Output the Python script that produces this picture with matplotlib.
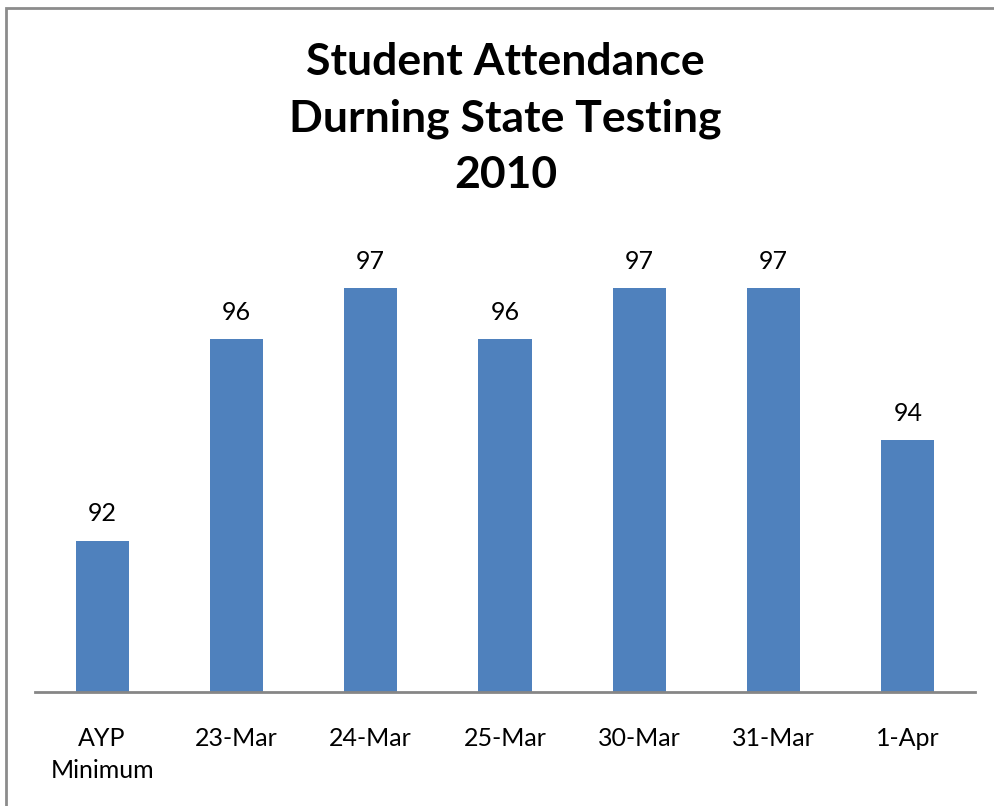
import matplotlib
matplotlib.use("Agg")
import matplotlib.pyplot as plt
from matplotlib.patches import Rectangle

# attendance percentages
categories = ["AYP\nMinimum", "23-Mar", "24-Mar", "25-Mar", "30-Mar", "31-Mar", "1-Apr"]
attendance = [92, 96, 97, 96, 97, 97, 94]
title = "Student Attendance\nDurning State Testing\n2010"

plt.rcParams['font.family'] = ['Lato', 'DejaVu Sans']

fig = plt.figure(figsize=(9.95, 8.06), dpi=100)
ax = fig.add_axes([0.0352, 0.1414, 0.9447, 0.5633])

x = range(len(categories))
bars = ax.bar(x, attendance, width=0.395, color="#4f81bd")
ax.set_ylim(89, 98)
ax.set_xlim(-0.5, len(categories) - 0.5)

for b, v in zip(bars, attendance):
    ax.annotate(str(v), (b.get_x() + b.get_width() / 2, v), xytext=(0, 11),
                textcoords="offset points", ha="center", va="bottom",
                fontsize=18, color="black")

ax.set_xticks(list(x))
ax.set_xticklabels(categories, fontsize=18, linespacing=1.5, va="top")
ax.tick_params(axis="x", length=0, pad=25)
ax.set_yticks([])
for side in ["left", "right", "top"]:
    ax.spines[side].set_visible(False)
ax.spines["bottom"].set_color("#868686")
ax.spines["bottom"].set_linewidth(2)

fig.text(0.508, 0.948, title, ha="center", va="top", fontsize=32,
         fontweight="bold", linespacing=1.5)

# chart border (right and bottom edges fall outside the picture)
border = Rectangle((6 / 995, -0.05), 1.1, 1 - 7.5 / 806 + 0.05, transform=fig.transFigure,
                   fill=False, edgecolor="#8c8c8c", linewidth=2, clip_on=False)
fig.patches.append(border)

fig.savefig("out.png", dpi=100)
